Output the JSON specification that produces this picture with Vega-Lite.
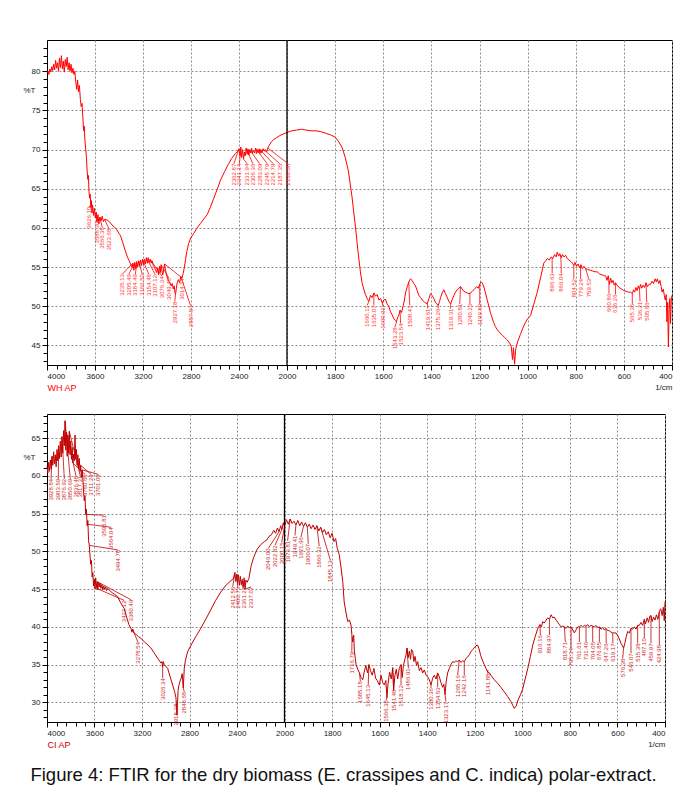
{
"$schema": "https://vega.github.io/schema/vega-lite/v6.json",
"padding": {"left": 22, "top": 38, "right": 5, "bottom": 5},
"background": "white",
"bounds": "flush",
"spacing": 49,
"config": {
 "view": {"stroke": "#000", "strokeWidth": 1},
 "font": "Liberation Sans",
 "axis": {"labelFont": "Liberation Sans", "labelFontSize": 8, "labelColor": "#222", "tickColor": "#000", "domainColor": "#000", "gridColor": "#8c8c8c", "gridDash": [2, 2], "gridWidth": 1, "titleFont": "Liberation Sans", "titleFontWeight": "normal", "labelPadding": 2}
},
"title": {"text": "Figure 4: FTIR for the dry biomass (E. crassipes and C. indica) polar-extract.", "orient": "bottom", "anchor": "middle", "dx": -5, "fontSize": 18.5, "fontWeight": "normal", "font": "Liberation Sans", "color": "#111", "offset": 16},
"datasets": {
 "wh": [
{"w":4000,"t":79.8},{"w":3992,"t":80.0},{"w":3984,"t":79.6},{"w":3976,"t":80.3},{"w":3968,"t":79.9},{"w":3960,"t":80.6},{"w":3952,"t":80.1},{"w":3944,"t":80.9},{"w":3936,"t":80.2},{"w":3928,"t":81.4},{"w":3920,"t":80.4},{"w":3912,"t":81.1},{"w":3904,"t":80.0},{"w":3896,"t":81.7},{"w":3888,"t":80.5},{"w":3880,"t":82.0},{"w":3872,"t":80.3},{"w":3864,"t":81.3},{"w":3856,"t":79.9},{"w":3848,"t":81.5},{"w":3840,"t":80.6},{"w":3832,"t":81.8},{"w":3824,"t":80.2},{"w":3816,"t":81.1},{"w":3808,"t":80.0},{"w":3800,"t":80.9},{"w":3792,"t":79.8},{"w":3784,"t":80.4},{"w":3776,"t":79.6},{"w":3768,"t":80.0},{"w":3760,"t":78.6},{"w":3752,"t":77.7},{"w":3745,"t":78.9},{"w":3738,"t":77.4},{"w":3730,"t":78.2},{"w":3722,"t":76.4},{"w":3715,"t":75.5},{"w":3708,"t":75.9},{"w":3700,"t":73.8},{"w":3695,"t":72.4},{"w":3690,"t":73.0},{"w":3684,"t":71.2},{"w":3678,"t":70.2},{"w":3672,"t":69.1},{"w":3666,"t":67.4},{"w":3660,"t":66.2},{"w":3655,"t":66.7},{"w":3650,"t":64.6},{"w":3645,"t":63.8},{"w":3640,"t":64.3},{"w":3635,"t":62.6},{"w":3630,"t":63.5},{"w":3625,"t":61.9},{"w":3620,"t":62.9},{"w":3612,"t":61.6},{"w":3605,"t":62.5},{"w":3598,"t":61.3},{"w":3590,"t":62.0},{"w":3582,"t":60.8},{"w":3575,"t":61.7},{"w":3568,"t":60.5},{"w":3560,"t":61.4},{"w":3550,"t":60.9},{"w":3540,"t":61.5},{"w":3530,"t":60.8},{"w":3520,"t":61.1},{"w":3498,"t":61.0},{"w":3480,"t":60.8},{"w":3460,"t":60.4},{"w":3443,"t":60.2},{"w":3420,"t":59.8},{"w":3400,"t":59.3},{"w":3387,"t":59.0},{"w":3370,"t":58.2},{"w":3350,"t":57.2},{"w":3330,"t":56.3},{"w":3315,"t":55.8},{"w":3304,"t":55.4},{"w":3292,"t":55.0},{"w":3284,"t":55.5},{"w":3276,"t":54.6},{"w":3268,"t":55.6},{"w":3260,"t":54.8},{"w":3252,"t":55.7},{"w":3244,"t":55.0},{"w":3236,"t":55.8},{"w":3228,"t":55.1},{"w":3220,"t":55.9},{"w":3212,"t":55.2},{"w":3204,"t":56.0},{"w":3196,"t":55.3},{"w":3188,"t":56.0},{"w":3180,"t":55.4},{"w":3172,"t":56.2},{"w":3164,"t":55.5},{"w":3156,"t":56.2},{"w":3148,"t":55.6},{"w":3140,"t":56.0},{"w":3132,"t":55.5},{"w":3124,"t":55.8},{"w":3115,"t":55.2},{"w":3105,"t":55.0},{"w":3095,"t":54.6},{"w":3085,"t":54.3},{"w":3078,"t":54.9},{"w":3070,"t":54.0},{"w":3063,"t":55.1},{"w":3056,"t":54.3},{"w":3049,"t":55.3},{"w":3042,"t":54.5},{"w":3035,"t":54.0},{"w":3027,"t":54.8},{"w":3020,"t":55.4},{"w":3012,"t":54.6},{"w":3004,"t":54.0},{"w":2995,"t":53.6},{"w":2985,"t":53.2},{"w":2975,"t":53.0},{"w":2965,"t":52.6},{"w":2956,"t":52.9},{"w":2948,"t":52.2},{"w":2940,"t":52.6},{"w":2934,"t":51.8},{"w":2929,"t":51.5},{"w":2922,"t":52.3},{"w":2915,"t":53.0},{"w":2905,"t":53.4},{"w":2895,"t":53.0},{"w":2885,"t":53.8},{"w":2875,"t":53.6},{"w":2865,"t":54.2},{"w":2855,"t":55.0},{"w":2845,"t":56.0},{"w":2835,"t":57.0},{"w":2820,"t":58.0},{"w":2800,"t":58.8},{"w":2777,"t":59.3},{"w":2750,"t":60.0},{"w":2720,"t":60.6},{"w":2690,"t":61.2},{"w":2665,"t":61.7},{"w":2640,"t":62.6},{"w":2610,"t":63.8},{"w":2580,"t":65.0},{"w":2554,"t":66.1},{"w":2520,"t":67.2},{"w":2490,"t":68.1},{"w":2460,"t":68.9},{"w":2430,"t":69.5},{"w":2410,"t":69.8},{"w":2400,"t":70.1},{"w":2392,"t":69.2},{"w":2385,"t":70.3},{"w":2378,"t":69.0},{"w":2370,"t":70.0},{"w":2362,"t":68.8},{"w":2355,"t":69.7},{"w":2348,"t":69.2},{"w":2340,"t":70.2},{"w":2332,"t":69.4},{"w":2325,"t":70.1},{"w":2318,"t":69.3},{"w":2310,"t":70.0},{"w":2302,"t":69.6},{"w":2295,"t":70.2},{"w":2288,"t":69.5},{"w":2280,"t":69.9},{"w":2270,"t":69.6},{"w":2262,"t":70.2},{"w":2255,"t":69.5},{"w":2248,"t":70.0},{"w":2240,"t":69.6},{"w":2232,"t":70.1},{"w":2225,"t":69.5},{"w":2218,"t":70.0},{"w":2210,"t":69.6},{"w":2200,"t":70.1},{"w":2190,"t":69.8},{"w":2180,"t":70.0},{"w":2170,"t":69.7},{"w":2160,"t":70.2},{"w":2150,"t":70.5},{"w":2130,"t":71.0},{"w":2110,"t":71.3},{"w":2090,"t":71.5},{"w":2060,"t":71.8},{"w":2030,"t":72.0},{"w":2000,"t":72.2},{"w":1980,"t":72.4},{"w":1960,"t":72.5},{"w":1940,"t":72.6},{"w":1920,"t":72.5},{"w":1900,"t":72.4},{"w":1880,"t":72.4},{"w":1860,"t":72.3},{"w":1840,"t":72.1},{"w":1820,"t":71.9},{"w":1800,"t":71.6},{"w":1785,"t":71.0},{"w":1770,"t":70.2},{"w":1758,"t":69.0},{"w":1745,"t":67.3},{"w":1730,"t":64.0},{"w":1715,"t":60.0},{"w":1705,"t":57.0},{"w":1695,"t":54.4},{"w":1688,"t":53.0},{"w":1681,"t":52.2},{"w":1674,"t":51.5},{"w":1667,"t":51.0},{"w":1660,"t":50.6},{"w":1653,"t":51.4},{"w":1646,"t":51.1},{"w":1639,"t":51.7},{"w":1632,"t":51.3},{"w":1625,"t":51.5},{"w":1618,"t":50.8},{"w":1611,"t":51.0},{"w":1604,"t":50.4},{"w":1598,"t":50.8},{"w":1591,"t":50.9},{"w":1584,"t":50.3},{"w":1577,"t":50.0},{"w":1570,"t":49.3},{"w":1563,"t":48.9},{"w":1556,"t":48.4},{"w":1550,"t":48.2},{"w":1545,"t":48.0},{"w":1540,"t":48.6},{"w":1535,"t":48.9},{"w":1530,"t":49.5},{"w":1524,"t":49.2},{"w":1517,"t":50.1},{"w":1512,"t":50.8},{"w":1507,"t":51.8},{"w":1500,"t":52.5},{"w":1494,"t":53.1},{"w":1487,"t":53.5},{"w":1480,"t":53.3},{"w":1473,"t":52.9},{"w":1466,"t":52.6},{"w":1459,"t":52.0},{"w":1452,"t":51.4},{"w":1445,"t":51.1},{"w":1438,"t":50.8},{"w":1428,"t":50.5},{"w":1417,"t":50.3},{"w":1410,"t":51.0},{"w":1404,"t":51.6},{"w":1397,"t":51.4},{"w":1390,"t":51.0},{"w":1383,"t":50.5},{"w":1377,"t":50.3},{"w":1372,"t":50.1},{"w":1366,"t":50.6},{"w":1362,"t":51.1},{"w":1355,"t":51.7},{"w":1348,"t":52.1},{"w":1341,"t":51.6},{"w":1334,"t":51.1},{"w":1327,"t":50.6},{"w":1320,"t":50.3},{"w":1313,"t":50.9},{"w":1306,"t":51.4},{"w":1300,"t":51.8},{"w":1293,"t":52.1},{"w":1286,"t":52.3},{"w":1279,"t":52.5},{"w":1272,"t":52.2},{"w":1265,"t":51.9},{"w":1258,"t":51.8},{"w":1251,"t":51.7},{"w":1244,"t":51.6},{"w":1237,"t":51.7},{"w":1230,"t":51.9},{"w":1224,"t":52.1},{"w":1218,"t":52.3},{"w":1212,"t":52.5},{"w":1205,"t":52.3},{"w":1199,"t":52.8},{"w":1194,"t":53.1},{"w":1189,"t":53.0},{"w":1183,"t":52.6},{"w":1176,"t":51.8},{"w":1168,"t":50.8},{"w":1161,"t":50.0},{"w":1154,"t":49.1},{"w":1147,"t":48.5},{"w":1141,"t":47.9},{"w":1134,"t":47.4},{"w":1126,"t":47.0},{"w":1115,"t":46.6},{"w":1105,"t":46.3},{"w":1095,"t":46.0},{"w":1085,"t":45.7},{"w":1075,"t":45.3},{"w":1068,"t":44.9},{"w":1063,"t":43.2},{"w":1059,"t":44.7},{"w":1054,"t":42.6},{"w":1050,"t":44.4},{"w":1046,"t":45.0},{"w":1040,"t":45.6},{"w":1030,"t":46.4},{"w":1020,"t":47.2},{"w":1010,"t":47.9},{"w":1000,"t":48.4},{"w":988,"t":48.8},{"w":975,"t":50.2},{"w":960,"t":51.8},{"w":945,"t":53.8},{"w":933,"t":55.5},{"w":925,"t":55.8},{"w":918,"t":56.1},{"w":910,"t":55.9},{"w":902,"t":56.3},{"w":895,"t":56.1},{"w":888,"t":56.6},{"w":881,"t":56.3},{"w":877,"t":56.9},{"w":871,"t":56.4},{"w":866,"t":56.7},{"w":860,"t":56.2},{"w":855,"t":56.6},{"w":849,"t":56.3},{"w":842,"t":56.5},{"w":835,"t":56.1},{"w":828,"t":55.9},{"w":820,"t":55.7},{"w":814,"t":55.5},{"w":808,"t":55.2},{"w":803,"t":55.6},{"w":797,"t":55.1},{"w":790,"t":55.4},{"w":784,"t":54.9},{"w":778,"t":55.3},{"w":773,"t":54.8},{"w":766,"t":55.1},{"w":759,"t":54.8},{"w":750,"t":54.7},{"w":740,"t":54.6},{"w":730,"t":54.5},{"w":720,"t":54.4},{"w":711,"t":54.4},{"w":700,"t":54.1},{"w":690,"t":54.0},{"w":680,"t":53.9},{"w":676,"t":53.9},{"w":670,"t":53.3},{"w":665,"t":53.9},{"w":660,"t":52.8},{"w":655,"t":53.6},{"w":650,"t":53.0},{"w":645,"t":53.3},{"w":640,"t":52.7},{"w":635,"t":53.0},{"w":628,"t":52.7},{"w":620,"t":52.4},{"w":610,"t":52.2},{"w":600,"t":52.0},{"w":590,"t":51.9},{"w":580,"t":51.8},{"w":572,"t":51.8},{"w":565,"t":51.6},{"w":560,"t":52.1},{"w":555,"t":51.8},{"w":550,"t":52.4},{"w":545,"t":52.0},{"w":540,"t":52.6},{"w":535,"t":52.2},{"w":531,"t":52.8},{"w":526,"t":52.3},{"w":520,"t":52.7},{"w":514,"t":52.4},{"w":508,"t":53.0},{"w":502,"t":52.5},{"w":496,"t":52.8},{"w":489,"t":52.8},{"w":483,"t":53.2},{"w":477,"t":52.9},{"w":470,"t":53.5},{"w":465,"t":53.1},{"w":461,"t":53.5},{"w":455,"t":52.9},{"w":450,"t":53.3},{"w":445,"t":52.5},{"w":441,"t":51.8},{"w":436,"t":52.2},{"w":432,"t":51.4},{"w":428,"t":50.8},{"w":424,"t":51.5},{"w":421,"t":48.0},{"w":418,"t":50.5},{"w":415,"t":44.8},{"w":412,"t":49.6},{"w":409,"t":51.0},{"w":406,"t":47.8},{"w":403,"t":50.8},{"w":400,"t":51.4}
 ],
 "whPk": [
{"lab":"3626.10","pw":3620,"pt":62.9,"lw":3652,"lt":62.7},{"lab":"3588.30","pw":3590,"pt":62.0,"lw":3587,"lt":60.8},{"lab":"3566.38","pw":3560,"pt":61.4,"lw":3540,"lt":60.1},{"lab":"3523.68","pw":3520,"pt":61.1,"lw":3485,"lt":59.9},
{"lab":"3235.13","pw":3284,"pt":55.5,"lw":3373,"lt":54.1},{"lab":"3205.49","pw":3268,"pt":55.6,"lw":3318,"lt":54.1},{"lab":"3184.49","pw":3252,"pt":55.7,"lw":3263,"lt":54.1},{"lab":"3166.50","pw":3236,"pt":55.8,"lw":3207,"lt":54.1},{"lab":"3154.48","pw":3204,"pt":56.0,"lw":3152,"lt":54.1},{"lab":"3107.12","pw":3172,"pt":56.2,"lw":3096,"lt":54.0},{"lab":"3076.34","pw":3140,"pt":56.0,"lw":3040,"lt":53.8},{"lab":"3049.48","pw":3049,"pt":55.3,"lw":2985,"lt":53.6},{"lab":"2927.18","pw":2929,"pt":51.5,"lw":2935,"lt":50.6},{"lab":"3014.14","pw":3020,"pt":55.4,"lw":2873,"lt":53.6},{"lab":"2887.86","pw":2885,"pt":53.8,"lw":2804,"lt":50.1},
{"lab":"2362.87","pw":2400,"pt":70.1,"lw":2443,"lt":68.2},{"lab":"2341.14","pw":2385,"pt":70.3,"lw":2396,"lt":68.2},{"lab":"2331.94","pw":2362,"pt":68.8,"lw":2332,"lt":68.2},{"lab":"2306.36","pw":2340,"pt":70.2,"lw":2285,"lt":68.2},{"lab":"2283.09","pw":2310,"pt":70.0,"lw":2229,"lt":68.2},{"lab":"2245.79","pw":2262,"pt":70.2,"lw":2165,"lt":68.2},{"lab":"2214.79","pw":2232,"pt":70.1,"lw":2115,"lt":68.2},{"lab":"2187.35","pw":2200,"pt":70.1,"lw":2060,"lt":68.2},{"lab":"2160.80","pw":2160,"pt":70.2,"lw":1995,"lt":68.2},
{"lab":"1660.11","pw":1660,"pt":50.6,"lw":1667,"lt":50.1},{"lab":"1635.07","pw":1639,"pt":51.7,"lw":1639,"lt":50.1},{"lab":"1600.92","pw":1604,"pt":50.4,"lw":1600,"lt":49.9},{"lab":"1543.28","pw":1545,"pt":48.0,"lw":1552,"lt":47.3},{"lab":"1523.54","pw":1530,"pt":49.5,"lw":1528,"lt":47.8},{"lab":"1508.41","pw":1494,"pt":53.1,"lw":1490,"lt":50.1},{"lab":"1419.61","pw":1417,"pt":50.3,"lw":1415,"lt":49.7},{"lab":"1375.26","pw":1372,"pt":50.1,"lw":1372,"lt":49.7},{"lab":"1319.31","pw":1320,"pt":50.3,"lw":1320,"lt":49.7},{"lab":"1280.81","pw":1279,"pt":52.5,"lw":1282,"lt":50.3},{"lab":"1240.23","pw":1240,"pt":51.7,"lw":1240,"lt":50.3},{"lab":"1199.80","pw":1199,"pt":52.8,"lw":1199,"lt":50.3},
{"lab":"896.63","pw":898,"pt":56.2,"lw":898,"lt":54.2},{"lab":"866.04","pw":862,"pt":56.5,"lw":860,"lt":54.2},{"lab":"804.52","pw":808,"pt":55.2,"lw":808,"lt":53.5},{"lab":"779.24","pw":780,"pt":55.3,"lw":780,"lt":53.5},{"lab":"759.53","pw":759,"pt":54.8,"lw":746,"lt":53.5},{"lab":"660.86","pw":662,"pt":53.2,"lw":662,"lt":51.6},{"lab":"636.26","pw":635,"pt":53.0,"lw":635,"lt":51.5},{"lab":"565.35","pw":565,"pt":51.6,"lw":565,"lt":50.3},{"lab":"536.21","pw":535,"pt":52.2,"lw":533,"lt":50.6},{"lab":"505.86","pw":508,"pt":53.0,"lw":505,"lt":50.5}
 ],
 "ci": [
{"w":4000,"t":61.2},{"w":3993,"t":60.4},{"w":3986,"t":61.8},{"w":3979,"t":60.6},{"w":3972,"t":62.1},{"w":3965,"t":60.9},{"w":3958,"t":62.6},{"w":3951,"t":61.4},{"w":3944,"t":63.2},{"w":3937,"t":61.6},{"w":3930,"t":62.8},{"w":3923,"t":61.2},{"w":3916,"t":63.5},{"w":3909,"t":62.0},{"w":3902,"t":64.0},{"w":3895,"t":62.3},{"w":3888,"t":64.6},{"w":3881,"t":62.5},{"w":3874,"t":65.2},{"w":3867,"t":63.0},{"w":3860,"t":66.0},{"w":3854,"t":64.0},{"w":3848,"t":67.3},{"w":3842,"t":63.4},{"w":3836,"t":65.8},{"w":3830,"t":62.6},{"w":3824,"t":65.4},{"w":3818,"t":63.0},{"w":3812,"t":65.9},{"w":3806,"t":62.8},{"w":3800,"t":64.6},{"w":3794,"t":62.2},{"w":3788,"t":63.8},{"w":3782,"t":61.7},{"w":3776,"t":62.9},{"w":3770,"t":62.0},{"w":3764,"t":65.4},{"w":3758,"t":62.2},{"w":3752,"t":63.5},{"w":3746,"t":61.4},{"w":3740,"t":62.8},{"w":3734,"t":61.0},{"w":3728,"t":62.3},{"w":3722,"t":60.6},{"w":3716,"t":61.4},{"w":3710,"t":59.8},{"w":3704,"t":60.8},{"w":3698,"t":59.6},{"w":3692,"t":58.0},{"w":3686,"t":56.7},{"w":3680,"t":57.4},{"w":3674,"t":54.9},{"w":3668,"t":55.6},{"w":3662,"t":53.4},{"w":3656,"t":54.1},{"w":3650,"t":51.4},{"w":3644,"t":50.8},{"w":3638,"t":49.5},{"w":3632,"t":48.3},{"w":3626,"t":48.8},{"w":3620,"t":46.6},{"w":3614,"t":47.2},{"w":3608,"t":45.4},{"w":3602,"t":46.3},{"w":3596,"t":45.0},{"w":3590,"t":46.5},{"w":3584,"t":45.2},{"w":3578,"t":46.0},{"w":3572,"t":44.9},{"w":3566,"t":45.9},{"w":3560,"t":45.3},{"w":3554,"t":45.8},{"w":3546,"t":45.1},{"w":3538,"t":45.6},{"w":3530,"t":44.9},{"w":3522,"t":45.4},{"w":3514,"t":45.0},{"w":3506,"t":45.3},{"w":3498,"t":44.8},{"w":3490,"t":45.1},{"w":3470,"t":44.8},{"w":3450,"t":44.5},{"w":3430,"t":44.3},{"w":3405,"t":44.0},{"w":3380,"t":43.2},{"w":3360,"t":42.7},{"w":3349,"t":42.4},{"w":3330,"t":41.3},{"w":3310,"t":40.3},{"w":3293,"t":39.8},{"w":3285,"t":39.3},{"w":3278,"t":39.7},{"w":3270,"t":39.2},{"w":3250,"t":39.0},{"w":3230,"t":38.7},{"w":3209,"t":38.5},{"w":3180,"t":38.0},{"w":3150,"t":37.6},{"w":3125,"t":37.2},{"w":3100,"t":36.6},{"w":3070,"t":35.9},{"w":3040,"t":35.2},{"w":3032,"t":35.4},{"w":3026,"t":34.7},{"w":3020,"t":35.4},{"w":3012,"t":34.9},{"w":3000,"t":34.8},{"w":2984,"t":34.5},{"w":2965,"t":33.5},{"w":2942,"t":32.3},{"w":2925,"t":31.4},{"w":2914,"t":30.6},{"w":2909,"t":29.4},{"w":2905,"t":28.3},{"w":2901,"t":29.8},{"w":2896,"t":31.6},{"w":2890,"t":32.2},{"w":2880,"t":32.8},{"w":2870,"t":33.2},{"w":2862,"t":33.8},{"w":2858,"t":33.1},{"w":2853,"t":31.9},{"w":2848,"t":33.3},{"w":2844,"t":34.5},{"w":2835,"t":35.5},{"w":2816,"t":36.7},{"w":2780,"t":37.8},{"w":2740,"t":38.9},{"w":2705,"t":39.8},{"w":2660,"t":41.1},{"w":2620,"t":42.3},{"w":2580,"t":43.5},{"w":2537,"t":44.6},{"w":2500,"t":45.4},{"w":2460,"t":46.0},{"w":2430,"t":46.4},{"w":2418,"t":47.2},{"w":2410,"t":46.0},{"w":2402,"t":47.0},{"w":2395,"t":45.8},{"w":2388,"t":46.9},{"w":2380,"t":45.5},{"w":2372,"t":46.7},{"w":2364,"t":45.6},{"w":2356,"t":46.3},{"w":2348,"t":45.2},{"w":2340,"t":46.5},{"w":2332,"t":45.0},{"w":2325,"t":46.2},{"w":2315,"t":45.9},{"w":2300,"t":46.4},{"w":2282,"t":48.0},{"w":2260,"t":49.2},{"w":2230,"t":50.3},{"w":2200,"t":50.9},{"w":2170,"t":51.3},{"w":2150,"t":51.5},{"w":2130,"t":52.0},{"w":2110,"t":52.2},{"w":2090,"t":52.8},{"w":2075,"t":52.4},{"w":2060,"t":53.1},{"w":2046,"t":52.6},{"w":2032,"t":53.4},{"w":2022,"t":52.9},{"w":2010,"t":53.8},{"w":2000,"t":53.3},{"w":1992,"t":54.2},{"w":1984,"t":53.6},{"w":1976,"t":54.3},{"w":1968,"t":53.7},{"w":1960,"t":54.0},{"w":1952,"t":53.5},{"w":1944,"t":54.1},{"w":1936,"t":53.4},{"w":1928,"t":53.9},{"w":1920,"t":53.3},{"w":1912,"t":53.8},{"w":1904,"t":53.2},{"w":1896,"t":53.6},{"w":1888,"t":53.0},{"w":1880,"t":53.5},{"w":1872,"t":52.9},{"w":1864,"t":53.4},{"w":1856,"t":52.7},{"w":1848,"t":53.2},{"w":1840,"t":52.5},{"w":1832,"t":52.9},{"w":1824,"t":52.2},{"w":1816,"t":52.6},{"w":1808,"t":51.8},{"w":1800,"t":52.4},{"w":1792,"t":51.3},{"w":1785,"t":51.7},{"w":1778,"t":50.4},{"w":1770,"t":49.6},{"w":1762,"t":47.8},{"w":1755,"t":46.0},{"w":1749,"t":43.3},{"w":1742,"t":42.0},{"w":1734,"t":40.7},{"w":1727,"t":40.9},{"w":1720,"t":40.2},{"w":1716,"t":38.7},{"w":1713,"t":38.0},{"w":1709,"t":38.9},{"w":1706,"t":36.7},{"w":1702,"t":35.8},{"w":1699,"t":35.0},{"w":1692,"t":34.4},{"w":1685,"t":33.9},{"w":1678,"t":33.3},{"w":1671,"t":33.0},{"w":1665,"t":34.0},{"w":1658,"t":34.9},{"w":1651,"t":33.9},{"w":1645,"t":35.0},{"w":1638,"t":34.2},{"w":1631,"t":33.6},{"w":1624,"t":34.5},{"w":1617,"t":33.2},{"w":1610,"t":32.9},{"w":1601,"t":32.3},{"w":1594,"t":33.6},{"w":1587,"t":32.6},{"w":1580,"t":32.3},{"w":1574,"t":32.9},{"w":1569,"t":30.6},{"w":1565,"t":32.4},{"w":1558,"t":34.0},{"w":1551,"t":33.1},{"w":1545,"t":34.6},{"w":1541,"t":31.6},{"w":1536,"t":33.5},{"w":1530,"t":34.4},{"w":1524,"t":33.1},{"w":1517,"t":34.6},{"w":1510,"t":35.0},{"w":1505,"t":33.3},{"w":1500,"t":34.9},{"w":1493,"t":35.8},{"w":1488,"t":36.4},{"w":1485,"t":37.2},{"w":1480,"t":35.9},{"w":1475,"t":36.8},{"w":1470,"t":35.7},{"w":1466,"t":37.0},{"w":1461,"t":36.8},{"w":1456,"t":35.4},{"w":1451,"t":36.1},{"w":1445,"t":34.9},{"w":1440,"t":35.4},{"w":1433,"t":34.2},{"w":1426,"t":34.6},{"w":1419,"t":33.9},{"w":1412,"t":34.3},{"w":1405,"t":33.6},{"w":1398,"t":33.4},{"w":1391,"t":33.0},{"w":1384,"t":32.3},{"w":1377,"t":33.2},{"w":1370,"t":33.6},{"w":1363,"t":33.1},{"w":1356,"t":33.9},{"w":1349,"t":33.4},{"w":1342,"t":32.6},{"w":1335,"t":32.0},{"w":1330,"t":32.4},{"w":1325,"t":31.0},{"w":1320,"t":32.8},{"w":1314,"t":33.9},{"w":1307,"t":34.5},{"w":1300,"t":35.0},{"w":1293,"t":35.4},{"w":1286,"t":35.3},{"w":1279,"t":35.5},{"w":1272,"t":35.4},{"w":1265,"t":35.6},{"w":1258,"t":35.3},{"w":1251,"t":35.5},{"w":1244,"t":35.4},{"w":1237,"t":35.8},{"w":1230,"t":36.0},{"w":1223,"t":36.3},{"w":1216,"t":36.7},{"w":1209,"t":37.0},{"w":1202,"t":37.2},{"w":1195,"t":37.5},{"w":1188,"t":37.6},{"w":1182,"t":37.1},{"w":1175,"t":36.2},{"w":1168,"t":35.6},{"w":1160,"t":35.0},{"w":1153,"t":34.5},{"w":1145,"t":34.0},{"w":1138,"t":33.9},{"w":1132,"t":33.6},{"w":1118,"t":33.0},{"w":1103,"t":32.5},{"w":1090,"t":32.0},{"w":1076,"t":31.4},{"w":1062,"t":30.8},{"w":1048,"t":30.1},{"w":1040,"t":29.6},{"w":1034,"t":29.2},{"w":1026,"t":29.5},{"w":1018,"t":30.3},{"w":1008,"t":31.0},{"w":998,"t":31.8},{"w":988,"t":33.1},{"w":977,"t":34.5},{"w":966,"t":36.1},{"w":956,"t":37.6},{"w":946,"t":38.7},{"w":935,"t":39.8},{"w":926,"t":40.3},{"w":920,"t":40.0},{"w":914,"t":40.7},{"w":908,"t":40.5},{"w":900,"t":40.9},{"w":893,"t":41.2},{"w":886,"t":41.0},{"w":879,"t":41.6},{"w":872,"t":41.2},{"w":866,"t":41.3},{"w":858,"t":40.9},{"w":851,"t":40.6},{"w":844,"t":40.3},{"w":837,"t":40.0},{"w":830,"t":40.1},{"w":823,"t":40.0},{"w":816,"t":39.8},{"w":809,"t":40.1},{"w":802,"t":39.9},{"w":795,"t":40.0},{"w":788,"t":39.6},{"w":781,"t":39.2},{"w":774,"t":39.6},{"w":767,"t":40.0},{"w":760,"t":40.0},{"w":753,"t":40.2},{"w":746,"t":40.0},{"w":739,"t":40.2},{"w":732,"t":40.1},{"w":725,"t":40.3},{"w":718,"t":40.0},{"w":711,"t":40.2},{"w":704,"t":40.1},{"w":697,"t":40.0},{"w":690,"t":40.2},{"w":683,"t":39.9},{"w":676,"t":40.0},{"w":669,"t":39.7},{"w":662,"t":39.9},{"w":655,"t":39.6},{"w":648,"t":39.8},{"w":641,"t":39.5},{"w":634,"t":39.5},{"w":627,"t":39.3},{"w":620,"t":39.2},{"w":613,"t":39.2},{"w":606,"t":39.2},{"w":600,"t":38.9},{"w":592,"t":38.4},{"w":585,"t":37.8},{"w":579,"t":37.5},{"w":574,"t":37.2},{"w":569,"t":37.8},{"w":563,"t":38.7},{"w":557,"t":39.4},{"w":550,"t":39.2},{"w":543,"t":39.8},{"w":536,"t":39.7},{"w":529,"t":40.0},{"w":522,"t":39.7},{"w":515,"t":40.2},{"w":508,"t":40.2},{"w":501,"t":40.6},{"w":494,"t":40.2},{"w":487,"t":41.0},{"w":482,"t":40.4},{"w":475,"t":41.2},{"w":469,"t":40.6},{"w":464,"t":41.4},{"w":459,"t":41.5},{"w":454,"t":40.7},{"w":448,"t":41.3},{"w":442,"t":40.9},{"w":436,"t":41.6},{"w":430,"t":41.0},{"w":424,"t":42.0},{"w":418,"t":42.4},{"w":412,"t":41.5},{"w":407,"t":42.6},{"w":403,"t":40.8},{"w":400,"t":43.3}
 ],
 "ciPk": [
{"lab":"3928.84","pw":3958,"pt":62.6,"lw":3966,"lt":59.6},{"lab":"3903.59","pw":3902,"pt":64.0,"lw":3905,"lt":59.6},{"lab":"3876.92","pw":3874,"pt":65.2,"lw":3854,"lt":59.6},{"lab":"3850.69","pw":3848,"pt":67.3,"lw":3804,"lt":59.6},{"lab":"3836.48","pw":3836,"pt":65.8,"lw":3756,"lt":60.0},{"lab":"3817.31","pw":3812,"pt":65.9,"lw":3720,"lt":60.0},{"lab":"3780.66","pw":3782,"pt":61.7,"lw":3680,"lt":60.2},{"lab":"3711.24","pw":3716,"pt":61.4,"lw":3629,"lt":60.2},{"lab":"3701.09","pw":3704,"pt":60.8,"lw":3568,"lt":60.2},
{"lab":"3595.81","pw":3674,"pt":54.9,"lw":3523,"lt":54.8},{"lab":"3564.04","pw":3662,"pt":53.6,"lw":3461,"lt":53.2},{"lab":"3494.78","pw":3644,"pt":50.8,"lw":3405,"lt":50.2},{"lab":"3422.12","pw":3596,"pt":45.2,"lw":3349,"lt":43.5},{"lab":"3380.49","pw":3578,"pt":46.0,"lw":3293,"lt":43.6},{"lab":"3278.54","pw":3278,"pt":39.7,"lw":3236,"lt":38.0},{"lab":"3026.34","pw":3026,"pt":34.7,"lw":3026,"lt":33.2},{"lab":"2918.37","pw":2905,"pt":28.3,"lw":2914,"lt":29.8},{"lab":"2848.68","pw":2853,"pt":31.9,"lw":2844,"lt":31.4},
{"lab":"2412.56","pw":2418,"pt":47.2,"lw":2436,"lt":45.3},{"lab":"2400.73","pw":2402,"pt":47.0,"lw":2394,"lt":45.3},{"lab":"2361.21","pw":2364,"pt":45.6,"lw":2338,"lt":45.3},{"lab":"2337.07","pw":2332,"pt":45.0,"lw":2282,"lt":45.3},
{"lab":"2046.00","pw":2046,"pt":52.6,"lw":2136,"lt":50.4},{"lab":"2022.82","pw":2022,"pt":52.9,"lw":2080,"lt":50.8},{"lab":"2000.15","pw":2000,"pt":53.3,"lw":2024,"lt":51.2},{"lab":"1973.81","pw":1976,"pt":54.3,"lw":1987,"lt":51.4},{"lab":"1949.41","pw":1952,"pt":53.5,"lw":1956,"lt":52.1},{"lab":"1921.96","pw":1920,"pt":53.3,"lw":1931,"lt":51.9},{"lab":"1900.07","pw":1904,"pt":53.2,"lw":1900,"lt":51.0},{"lab":"1866.32","pw":1864,"pt":53.4,"lw":1854,"lt":50.7},{"lab":"1845.13","pw":1848,"pt":53.2,"lw":1807,"lt":48.8},
{"lab":"1716.79","pw":1716,"pt":38.7,"lw":1717,"lt":36.7},{"lab":"1685.18","pw":1685,"pt":33.9,"lw":1681,"lt":32.8},{"lab":"1645.13","pw":1645,"pt":35.0,"lw":1648,"lt":32.3},{"lab":"1566.38","pw":1569,"pt":30.6,"lw":1573,"lt":30.3},{"lab":"1541.48","pw":1545,"pt":34.6,"lw":1541,"lt":31.7},{"lab":"1518.12","pw":1510,"pt":35.0,"lw":1510,"lt":32.3},{"lab":"1486.91","pw":1485,"pt":37.2,"lw":1479,"lt":34.5},{"lab":"1380.36","pw":1384,"pt":32.3,"lw":1384,"lt":31.9},{"lab":"1354.53","pw":1356,"pt":33.9,"lw":1356,"lt":32.0},{"lab":"1323.17","pw":1325,"pt":31.0,"lw":1321,"lt":30.1},{"lab":"1265.16","pw":1265,"pt":35.6,"lw":1272,"lt":33.6},{"lab":"1242.16","pw":1244,"pt":35.4,"lw":1244,"lt":33.6},{"lab":"1141.88","pw":1145,"pt":34.3,"lw":1145,"lt":33.8},
{"lab":"916.16","pw":926,"pt":40.3,"lw":924,"lt":38.9},{"lab":"884.97","pw":886,"pt":41.0,"lw":886,"lt":38.9},{"lab":"818.71","pw":823,"pt":40.0,"lw":819,"lt":38.0},{"lab":"795.34","pw":795,"pt":40.0,"lw":795,"lt":37.2},{"lab":"761.61","pw":760,"pt":40.0,"lw":760,"lt":38.0},{"lab":"731.46","pw":732,"pt":40.1,"lw":732,"lt":38.0},{"lab":"704.05","pw":704,"pt":40.1,"lw":704,"lt":38.0},{"lab":"676.85","pw":676,"pt":40.0,"lw":676,"lt":38.0},{"lab":"647.26","pw":648,"pt":39.8,"lw":647,"lt":37.8},{"lab":"619.17","pw":620,"pt":39.2,"lw":619,"lt":37.8},{"lab":"576.38","pw":574,"pt":37.2,"lw":578,"lt":35.8},{"lab":"546.07","pw":543,"pt":39.8,"lw":543,"lt":36.5},{"lab":"515.38","pw":515,"pt":40.2,"lw":515,"lt":37.8},{"lab":"487.10","pw":487,"pt":41.0,"lw":487,"lt":38.5},{"lab":"459.97","pw":459,"pt":41.5,"lw":459,"lt":37.8},{"lab":"424.98","pw":424,"pt":42.0,"lw":424,"lt":37.6}
 ]
},
"vconcat": [
 {
  "width": 625, "height": 325,
  "layer": [
   {"data": {"name": "wh"}, "mark": {"type": "line", "color": "#ff0000", "strokeWidth": 1},
    "encoding": {
     "x": {"field": "w", "type": "quantitative", "scale": {"domain": [4000, 2000, 400], "range": [0, 240, 625], "nice": false, "zero": false},
       "axis": {"values": [4000,3600,3200,2800,2400,2000,1800,1600,1400,1200,1000,800,600,400], "format": "d", "grid": true, "tickSize": 5, "title": "WH AP", "titleColor": "#ff0000", "titleFontSize": 9, "titleAnchor": "start", "titleAlign": "left", "titleX": 0, "titleY": 22, "titleBaseline": "middle"}},
     "y": {"field": "t", "type": "quantitative", "scale": {"domain": [42.5, 84], "nice": false, "zero": false},
       "axis": {"values": [45,50,55,60,65,70,75,80], "grid": true, "tickSize": 5, "title": "%T", "titleAngle": 0, "titleX": -18, "titleY": 50, "titleAlign": "center", "titleBaseline": "middle", "titleFontSize": 8, "titleColor": "#222"}}
    }},
   {"data": {"values": [{"w": 2000}]}, "mark": {"type": "rule", "color": "#000", "strokeWidth": 1.3},
    "encoding": {"x": {"field": "w", "type": "quantitative", "axis": null}}},
   {"data": {"name": "whPk"}, "mark": {"type": "rule", "color": "#ff0000", "strokeWidth": 0.8},
    "encoding": {
     "x": {"field": "pw", "type": "quantitative", "axis": {"orient": "bottom", "values": [4000,3920,3840,3760,3680,3600,3520,3440,3360,3280,3200,3120,3040,2960,2880,2800,2720,2640,2560,2480,2400,2320,2240,2160,2080,2000,1960,1920,1880,1840,1800,1760,1720,1680,1640,1600,1560,1520,1480,1440,1400,1360,1320,1280,1240,1200,1160,1120,1080,1040,1000,960,920,880,840,800,760,720,680,640,600,560,520,480,440,400], "labels": false, "grid": false, "domain": false, "tickSize": 4, "title": "1/cm", "titleAnchor": "end", "titleAlign": "right", "titleX": 625, "titleY": 22, "titleBaseline": "middle", "titleFontSize": 8, "titleColor": "#222"}},
     "y": {"field": "pt", "type": "quantitative", "axis": {"orient": "left", "values": [43,44,45,46,47,48,49,50,51,52,53,54,55,56,57,58,59,60,61,62,63,64,65,66,67,68,69,70,71,72,73,74,75,76,77,78,79,80,81,82,83], "labels": false, "grid": false, "domain": false, "tickSize": 4, "title": null}},
     "x2": {"field": "lw"}, "y2": {"field": "lt"}
    }},
   {"data": {"name": "whPk"}, "mark": {"type": "text", "angle": 270, "align": "right", "baseline": "middle", "fontSize": 6, "color": "#ff3030", "font": "Liberation Sans"},
    "encoding": {"x": {"field": "lw", "type": "quantitative", "axis": null}, "y": {"field": "lt", "type": "quantitative", "axis": null}, "text": {"field": "lab"}}}
  ],
  "resolve": {"axis": {"x": "independent", "y": "independent"}}
 },
 {
  "width": 618, "height": 308,
  "layer": [
   {"data": {"name": "ci"}, "mark": {"type": "line", "color": "#c00000", "strokeWidth": 1},
    "encoding": {
     "x": {"field": "w", "type": "quantitative", "scale": {"domain": [4000, 2000, 400], "range": [0, 237.5, 618], "nice": false, "zero": false},
       "axis": {"values": [4000,3600,3200,2800,2400,2000,1800,1600,1400,1200,1000,800,600,400], "format": "d", "grid": true, "tickSize": 5, "title": "CI AP", "titleColor": "#cc0000", "titleFontSize": 9, "titleAnchor": "start", "titleAlign": "left", "titleX": 0, "titleY": 22, "titleBaseline": "middle"}},
     "y": {"field": "t", "type": "quantitative", "scale": {"domain": [27.4, 68.2], "nice": false, "zero": false},
       "axis": {"values": [30,35,40,45,50,55,60,65], "grid": true, "tickSize": 5, "title": "%T", "titleAngle": 0, "titleX": -18, "titleY": 43, "titleAlign": "center", "titleBaseline": "middle", "titleFontSize": 8, "titleColor": "#222"}}
    }},
   {"data": {"values": [{"w": 2000}]}, "mark": {"type": "rule", "color": "#000", "strokeWidth": 1.3},
    "encoding": {"x": {"field": "w", "type": "quantitative", "axis": null}}},
   {"data": {"name": "ciPk"}, "mark": {"type": "rule", "color": "#c00000", "strokeWidth": 0.8},
    "encoding": {
     "x": {"field": "pw", "type": "quantitative", "axis": {"orient": "bottom", "values": [4000,3920,3840,3760,3680,3600,3520,3440,3360,3280,3200,3120,3040,2960,2880,2800,2720,2640,2560,2480,2400,2320,2240,2160,2080,2000,1960,1920,1880,1840,1800,1760,1720,1680,1640,1600,1560,1520,1480,1440,1400,1360,1320,1280,1240,1200,1160,1120,1080,1040,1000,960,920,880,840,800,760,720,680,640,600,560,520,480,440,400], "labels": false, "grid": false, "domain": false, "tickSize": 4, "title": "1/cm", "titleAnchor": "end", "titleAlign": "right", "titleX": 618, "titleY": 22, "titleBaseline": "middle", "titleFontSize": 8, "titleColor": "#222"}},
     "y": {"field": "pt", "type": "quantitative", "axis": {"orient": "left", "values": [28,29,30,31,32,33,34,35,36,37,38,39,40,41,42,43,44,45,46,47,48,49,50,51,52,53,54,55,56,57,58,59,60,61,62,63,64,65,66,67,68], "labels": false, "grid": false, "domain": false, "tickSize": 4, "title": null}},
     "x2": {"field": "lw"}, "y2": {"field": "lt"}
    }},
   {"data": {"name": "ciPk"}, "mark": {"type": "text", "angle": 270, "align": "right", "baseline": "middle", "fontSize": 6, "color": "#cc2a2a", "font": "Liberation Sans"},
    "encoding": {"x": {"field": "lw", "type": "quantitative", "axis": null}, "y": {"field": "lt", "type": "quantitative", "axis": null}, "text": {"field": "lab"}}}
  ],
  "resolve": {"axis": {"x": "independent", "y": "independent"}}
 }
]
}
